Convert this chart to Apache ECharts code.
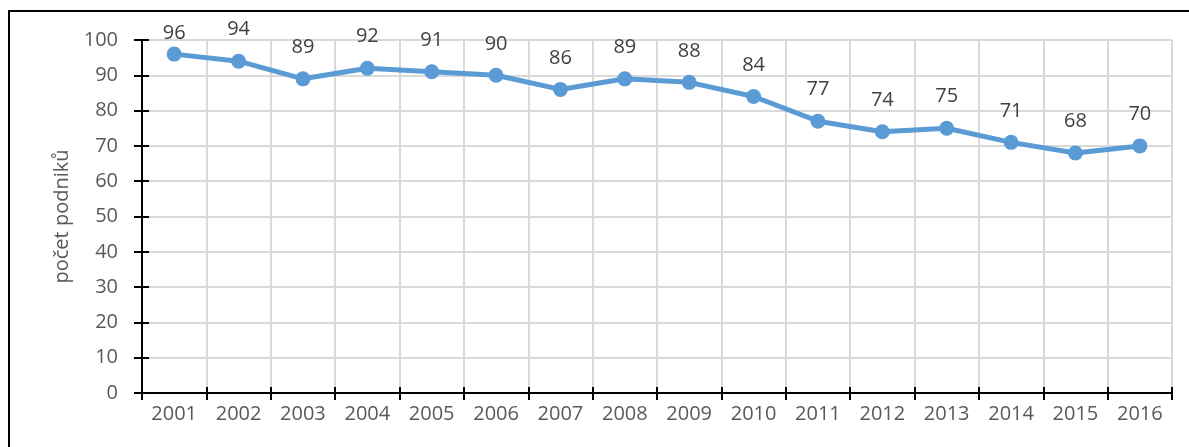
<!DOCTYPE html>
<html>
<head>
<meta charset="utf-8">
<script src="https://cdn.jsdelivr.net/npm/echarts@6/dist/echarts.min.js"></script>
<style>
  html, body { margin: 0; padding: 0; background: #fff; }
  #frame { position: absolute; left: 8px; top: 10px; width: 1300px; height: 600px; border: 2px solid #000; }
  #chart { position: absolute; left: 0; top: 0; width: 1189px; height: 447px; }
</style>
</head>
<body>
<div id="frame"></div>
<div id="chart"></div>
<script>
// roky a počty podniků
const years = ["2001", "2002", "2003", "2004", "2005", "2006", "2007", "2008",
  "2009", "2010", "2011", "2012", "2013", "2014", "2015", "2016"];
const podniky = [96, 94, 89, 92, 91, 90, 86, 89, 88, 84, 77, 74, 75, 71, 68, 70];

const font = "'Open Sans', 'Noto Sans', sans-serif";
let chart = echarts.init(document.getElementById("chart"));

// první popisek je u horního okraje posunutý blíž k bodu
const seriesData = podniky.map((v, i) =>
  i === 0 ? { value: v, label: { distance: 3 } } : v
);

let option = {
  animation: false,
  grid: { left: 142, right: 17, top: 40, bottom: 54 },
  xAxis: [
    {
      type: "category",
      data: years,
      boundaryGap: true,
      axisLine: { lineStyle: { color: "#000", width: 2 } },
      axisTick: { show: true, length: 7, lineStyle: { color: "#000", width: 2 } },
      axisLabel: { color: "#595959", fontSize: 20, fontFamily: font, margin: 11 },
      splitLine: { show: true, lineStyle: { color: "#d9d9d9", width: 2 } },
    },
    {
      // horní část křížových značek
      type: "category",
      data: years,
      position: "bottom",
      boundaryGap: true,
      axisLine: { show: false },
      axisTick: { show: true, inside: true, length: 6, lineStyle: { color: "#000", width: 2 } },
      axisLabel: { show: false },
      splitLine: { show: false },
    },
  ],
  yAxis: [
    {
      type: "value",
      min: 0,
      max: 100,
      interval: 10,
      name: "počet podniků",
      nameLocation: "middle",
      nameGap: 64,
      nameTextStyle: { color: "#595959", fontSize: 20, fontFamily: font },
      axisLine: { show: true, lineStyle: { color: "#000", width: 2 } },
      axisTick: { show: true, length: 8, lineStyle: { color: "#000", width: 2 } },
      axisLabel: { color: "#595959", fontSize: 20, fontFamily: font, margin: 24 },
      splitLine: { show: true, lineStyle: { color: "#d9d9d9", width: 2 } },
    },
    {
      type: "value",
      min: 0,
      max: 100,
      interval: 10,
      position: "left",
      axisLine: { show: false },
      axisTick: { show: true, inside: true, length: 7, lineStyle: { color: "#000", width: 2 } },
      axisLabel: { show: false },
      splitLine: { show: false },
    },
  ],
  series: [
    {
      type: "line",
      data: seriesData,
      color: "#5b9bd5",
      lineStyle: { width: 5, color: "#5b9bd5" },
      symbol: "circle",
      symbolSize: 15,
      itemStyle: { color: "#5b9bd5" },
      label: {
        show: true,
        position: "top",
        distance: 14,
        color: "#404040",
        fontSize: 20,
        fontFamily: font,
      },
    },
  ],
};
option && chart.setOption(option);
</script>
</body>
</html>
